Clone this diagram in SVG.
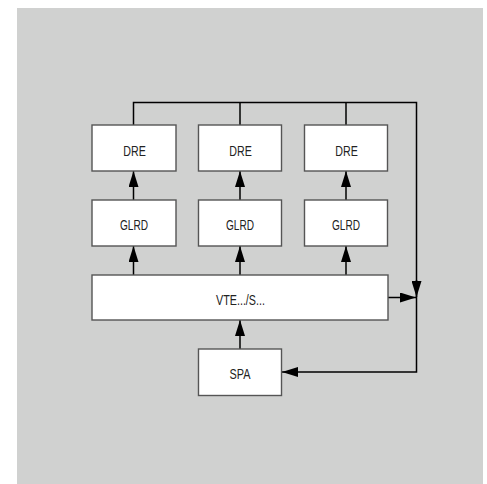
<svg xmlns="http://www.w3.org/2000/svg" width="487" height="484" viewBox="0 0 487 484">
<defs>
<style>
.box{fill:#fff;stroke:#555;stroke-width:1.4}
.lbl{font-family:"Liberation Sans",Arial,sans-serif;font-size:15.5px;fill:#222;text-anchor:middle}
.ln{fill:none;stroke:#000;stroke-width:1.5}
</style>
<marker id="ah" viewBox="0 0 16 10" refX="16" refY="5" markerWidth="16" markerHeight="10" markerUnits="userSpaceOnUse" orient="auto">
<path d="M0,0 L16,5 L0,10 Z" fill="#000"/>
</marker>
</defs>
<rect x="17" y="8" width="466" height="476" fill="#d0d1d0"/>
<g id="connectors">
<path class="ln" d="M133.5,125 V102.5 H416.5 V297"/>
<path class="ln" d="M240,125 V102.5"/>
<path class="ln" d="M346,125 V102.5"/>
<path class="ln" d="M416.5,297 V372 H282" marker-end="url(#ah)"/>
<path class="ln" d="M416.5,280 V297" marker-end="url(#ah)"/>
<path class="ln" d="M388,297.5 H416" marker-end="url(#ah)"/>
<path class="ln" d="M133.5,200 V171" marker-end="url(#ah)"/>
<path class="ln" d="M240,200 V171" marker-end="url(#ah)"/>
<path class="ln" d="M346,200 V171" marker-end="url(#ah)"/>
<path class="ln" d="M133.5,275 V246" marker-end="url(#ah)"/>
<path class="ln" d="M240,275 V246" marker-end="url(#ah)"/>
<path class="ln" d="M346,275 V246" marker-end="url(#ah)"/>
<path class="ln" d="M240,349 V320" marker-end="url(#ah)"/>
</g>
<g id="dre1"><rect class="box" x="92" y="125" width="84" height="46"/><text class="lbl" x="134.5" y="156" textLength="22.5" lengthAdjust="spacingAndGlyphs">DRE</text></g>
<g id="dre2"><rect class="box" x="198.5" y="125" width="83" height="46"/><text class="lbl" x="240.5" y="156" textLength="22.5" lengthAdjust="spacingAndGlyphs">DRE</text></g>
<g id="dre3"><rect class="box" x="304.5" y="125" width="83" height="46"/><text class="lbl" x="346.5" y="156" textLength="22.5" lengthAdjust="spacingAndGlyphs">DRE</text></g>
<g id="glrd1"><rect class="box" x="92" y="200" width="84" height="46"/><text class="lbl" x="134" y="230" textLength="28" lengthAdjust="spacingAndGlyphs">GLRD</text></g>
<g id="glrd2"><rect class="box" x="198.5" y="200" width="83" height="46"/><text class="lbl" x="240" y="230" textLength="28" lengthAdjust="spacingAndGlyphs">GLRD</text></g>
<g id="glrd3"><rect class="box" x="304.5" y="200" width="83" height="46"/><text class="lbl" x="346" y="230" textLength="28" lengthAdjust="spacingAndGlyphs">GLRD</text></g>
<g id="vte"><rect class="box" x="92" y="275" width="296" height="45"/><text class="lbl" x="240.5" y="305" textLength="49" lengthAdjust="spacingAndGlyphs">VTE.../S...</text></g>
<g id="spa"><rect class="box" x="198.5" y="349" width="83" height="46.5"/><text class="lbl" x="240" y="379" textLength="21" lengthAdjust="spacingAndGlyphs">SPA</text></g>
</svg>
